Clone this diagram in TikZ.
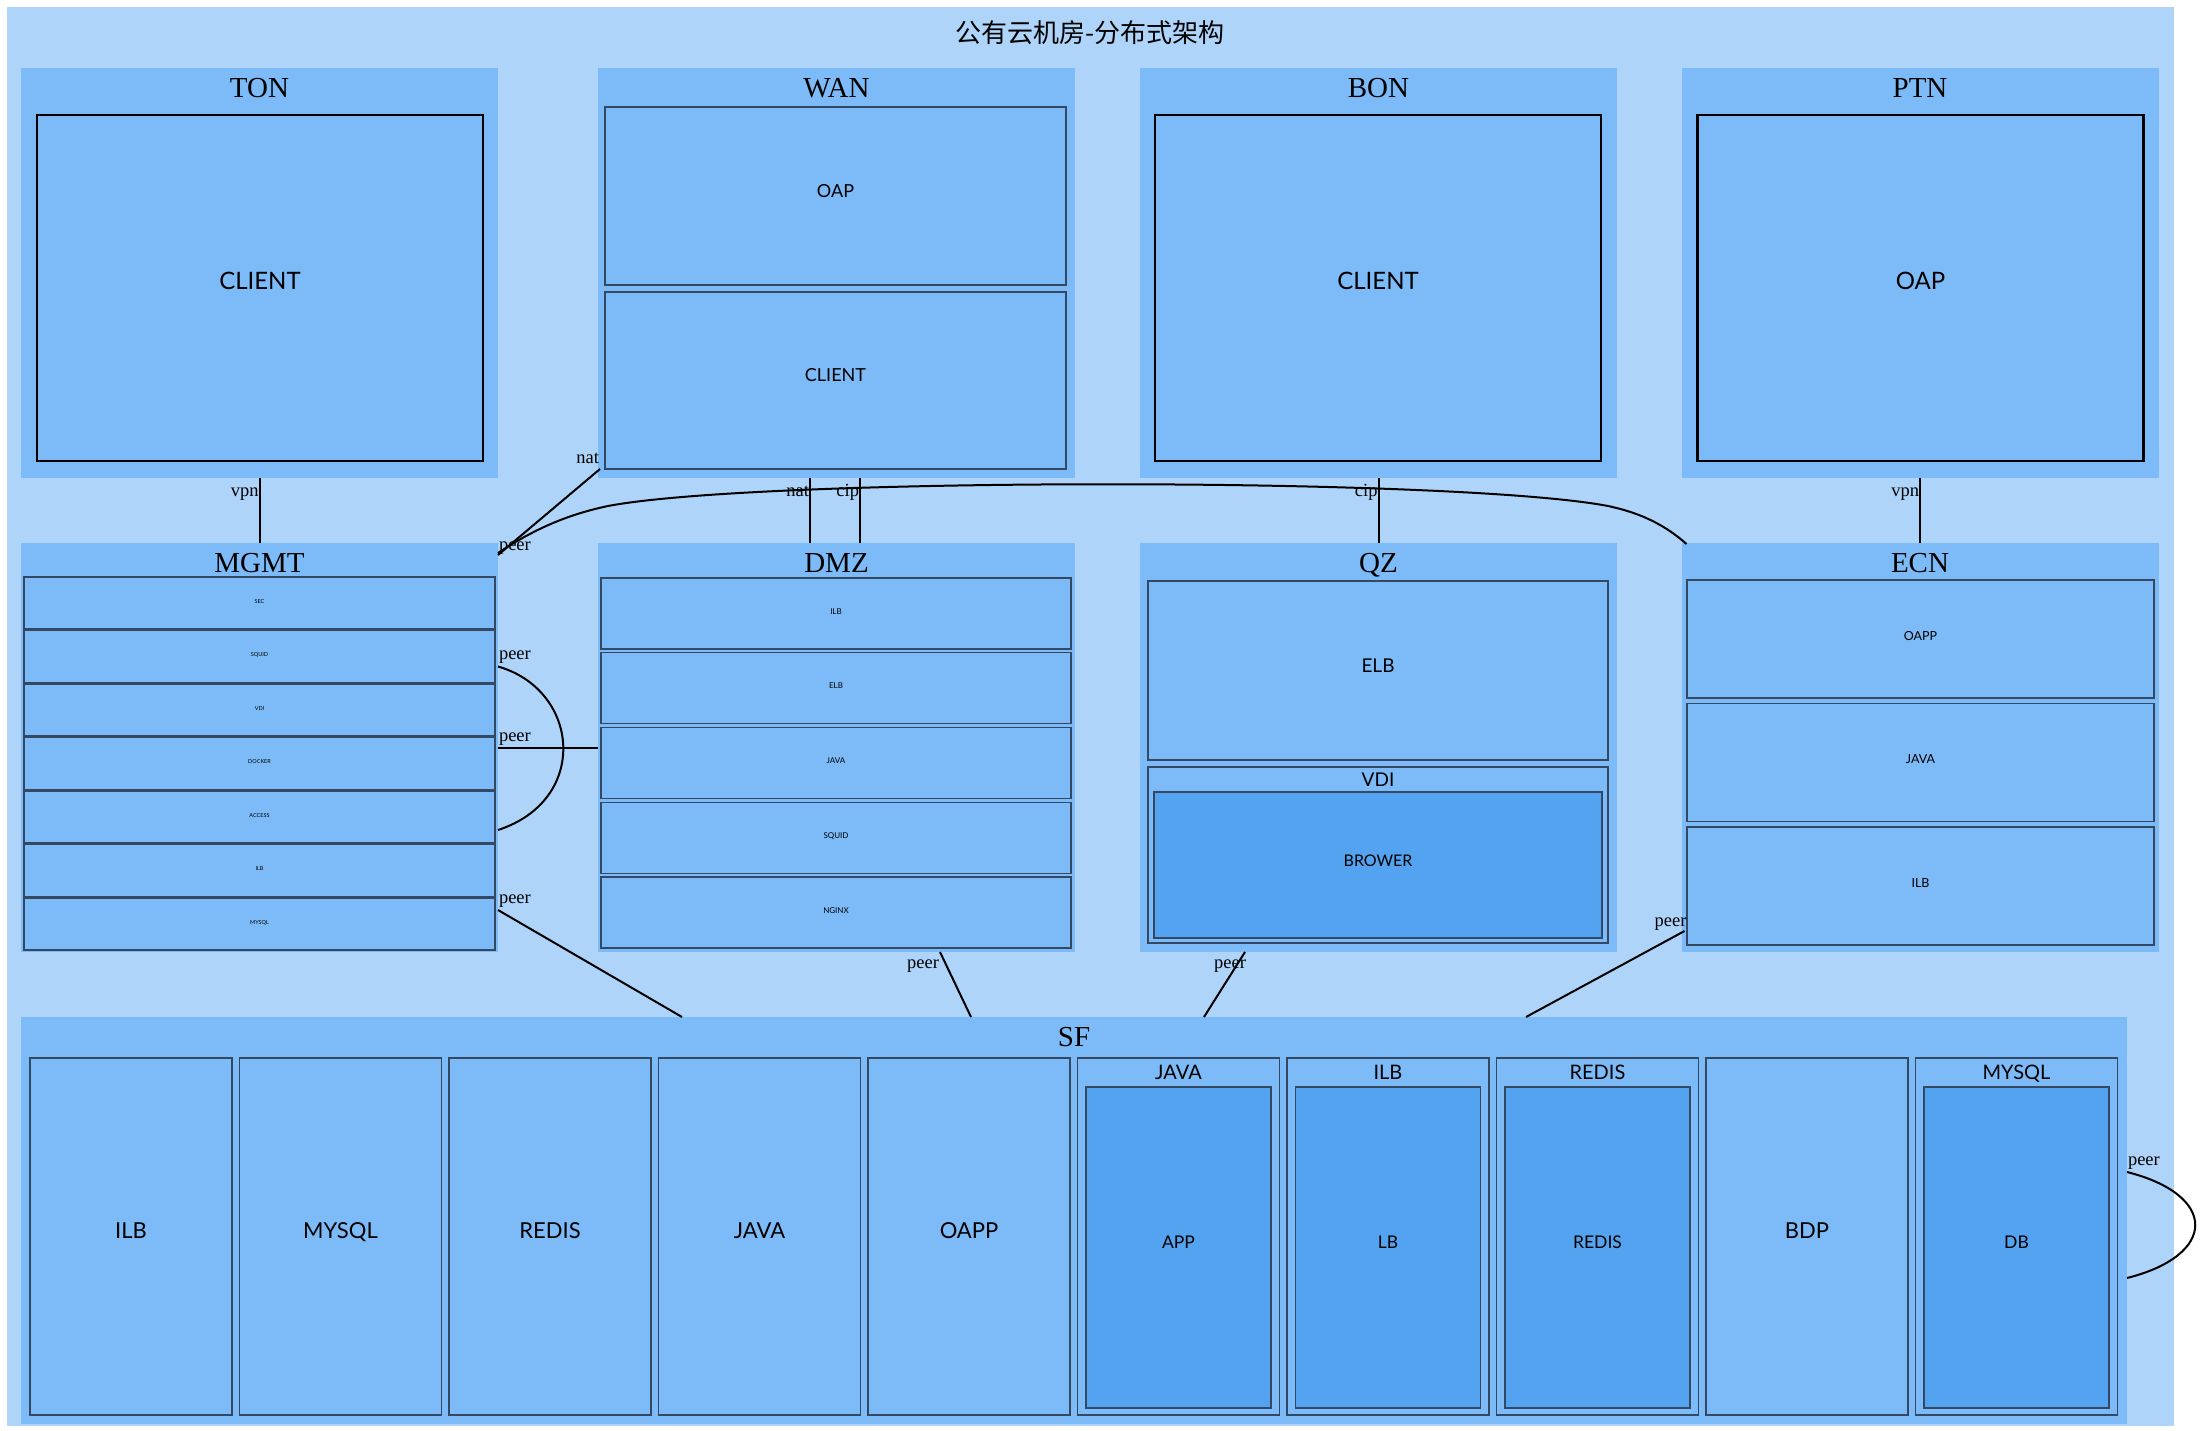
\documentclass[tikz,border=0pt]{standalone}
\usepackage{fontspec}
\setmainfont{Liberation Serif}
\newfontfamily\lbl{Lato}
\newfontfamily\cjk{Noto Sans CJK SC}
\usetikzlibrary{calc}

\definecolor{fondo}{RGB}{175,212,249}
\definecolor{grupoazul}{RGB}{125,187,248}
\definecolor{oscuro}{RGB}{84,163,240}
\definecolor{borde}{RGB}{52,72,98}

\begin{document}
\begin{tikzpicture}[x=1pt, y=-1pt,
    every node/.style={inner sep=0pt, outer sep=0pt},
    grupo/.style={fill=grupoazul, minimum width=477pt, minimum height=410pt},
    tit/.style={font=\fontsize{29}{29}\selectfont, anchor=base},
    caja/.style={draw=borde, line width=1.3pt, fill=grupoazul},
    gruesa/.style={draw=black, line width=2.5pt, fill=grupoazul},
    oscura/.style={caja, fill=oscuro},
    lab/.style={font=\lbl\fontsize{#1}{#1}\selectfont, text height=.8*#1pt, text depth=.64*#1pt},
    sub/.style={font=\lbl\fontsize{#1}{#1}\selectfont, anchor=base},
    mfila/.style={caja, lab=5.5, minimum width=471pt, minimum height=52pt},
    dfila/.style={caja, lab=8, minimum width=470pt, minimum height=71pt},
    efila/.style={caja, lab=12.5, minimum width=467pt, minimum height=118pt},
    col/.style={caja, minimum width=202pt, minimum height=357pt},
    colint/.style={oscura, lab=17.5, minimum width=185pt, minimum height=321pt},
    arista/.style={line width=2pt},
    etiq/.style={font=\fontsize{18.5}{18.5}\selectfont, inner sep=1pt}]
  \useasboundingbox (0,0) rectangle (2206,1430);

  % Fondo
  \node[fill=fondo, minimum width=2167pt, minimum height=1419pt] (grafo) at (1090.5,716.5) {};
  \node[font=\cjk\fontsize{26}{26}\selectfont] (titulo) at (1090,33) {公有云机房-分布式架构};

  % Grupos
  \node[grupo] (ton) at (259.5,273) {};
  \node[grupo] (wan) at (836.5,273) {};
  \node[grupo] (bon) at (1378.5,273) {};
  \node[grupo] (ptn) at (1920,273) {};
  \node[grupo, minimum height=409pt] (mgmt) at (259.5,747.5) {};
  \node[grupo, minimum height=409pt] (dmz) at (836.5,747.5) {};
  \node[grupo, minimum height=409pt] (qz) at (1378.5,747.5) {};
  \node[grupo, minimum height=409pt] (ecn) at (1920,747.5) {};
  \node[grupo, minimum width=2106pt, minimum height=407pt] (sf) at (1074,1220.5) {};

  \node[tit] (tontit) at ($(ton.north)+(0,29)$) {TON};
  \node[tit] (wantit) at ($(wan.north)+(0,29)$) {WAN};
  \node[tit] (bontit) at ($(bon.north)+(0,29)$) {BON};
  \node[tit] (ptntit) at ($(ptn.north)+(0,29)$) {PTN};
  \node[tit] (mgmttit) at ($(mgmt.north)+(0,29)$) {MGMT};
  \node[tit] (dmztit) at ($(dmz.north)+(0,29)$) {DMZ};
  \node[tit] (qztit) at ($(qz.north)+(0,29)$) {QZ};
  \node[tit] (ecntit) at ($(ecn.north)+(0,29)$) {ECN};
  \node[tit] (sftit) at ($(sf.north)+(0,29)$) {SF};

  % Nodos
  \node[gruesa, lab=24, minimum width=446pt, minimum height=346pt] (tclient) at (260,288) {CLIENT};
  \node[caja, lab=18, minimum width=461pt, minimum height=178pt] (woap) at (835.5,196) {OAP};
  \node[caja, lab=18, minimum width=461pt, minimum height=177pt] (wclient) at (835.5,380.5) {CLIENT};
  \node[gruesa, lab=24, minimum width=446pt, minimum height=346pt] (bclient) at (1378,288) {CLIENT};
  \node[gruesa, lab=24, minimum width=446pt, minimum height=346pt] (poap) at (1920.5,288) {OAP};

  \node[mfila] (msec) at (259.5,603) {SEC};
  \node[mfila] (msquid) at (259.5,656.5) {SQUID};
  \node[mfila] (mvdi) at (259.5,710) {VDI};
  \node[mfila] (mdocker) at (259.5,763.5) {DOCKER};
  \node[mfila] (maccess) at (259.5,817) {ACCESS};
  \node[mfila] (milb) at (259.5,870.5) {ILB};
  \node[mfila] (mmysql) at (259.5,924) {MYSQL};

  \node[dfila] (dilb) at (836,613.5) {ILB};
  \node[dfila] (delb) at (836,688) {ELB};
  \node[dfila] (djava) at (836,763) {JAVA};
  \node[dfila] (dsquid) at (836,838) {SQUID};
  \node[dfila] (dnginx) at (836,912.5) {NGINX};

  \node[caja, lab=19, minimum width=460pt, minimum height=179pt] (qelb) at (1378,670.5) {ELB};
  \node[caja, minimum width=460pt, minimum height=176pt] (qvdi) at (1378,855) {};
  \node[sub=19] (qvditit) at ($(qvdi.north)+(0,19)$) {VDI};
  \node[oscura, lab=16, minimum width=448pt, minimum height=146pt] (qbrower) at (1378,865) {BROWER};

  \node[efila] (eoapp) at (1920.5,639) {OAPP};
  \node[efila] (ejava) at (1920.5,762.5) {JAVA};
  \node[efila] (eilb) at (1920.5,886) {ILB};

  \node[col, lab=22] (silb) at (131,1236.5) {ILB};
  \node[col, lab=22] (smysql) at (340.5,1236.5) {MYSQL};
  \node[col, lab=22] (sredis) at (550,1236.5) {REDIS};
  \node[col, lab=22] (sjava) at (759.5,1236.5) {JAVA};
  \node[col, lab=22] (soapp) at (969,1236.5) {OAPP};
  \node[col] (gjava) at (1178.5,1236.5) {};
  \node[sub=20] (gjavatit) at ($(gjava.north)+(0,21)$) {JAVA};
  \node[colint] (sapp) at (1178.5,1247.5) {APP};
  \node[col] (gilb) at (1388,1236.5) {};
  \node[sub=20] (gilbtit) at ($(gilb.north)+(0,21)$) {ILB};
  \node[colint] (slb) at (1388,1247.5) {LB};
  \node[col] (gredis) at (1597.5,1236.5) {};
  \node[sub=20] (gredistit) at ($(gredis.north)+(0,21)$) {REDIS};
  \node[colint] (srediso) at (1597.5,1247.5) {REDIS};
  \node[col, lab=22] (sbdp) at (1807,1236.5) {BDP};
  \node[col] (gmysql) at (2016.5,1236.5) {};
  \node[sub=20] (gmysqltit) at ($(gmysql.north)+(0,21)$) {MYSQL};
  \node[colint] (sdb) at (2016.5,1247.5) {DB};

  % Aristas
  \draw[arista] (ton.south) -- (mgmt.north)
    node[pos=0, etiq, anchor=base east, yshift=-18pt] {vpn};
  \draw[arista] (ptn.south) -- (ecn.north)
    node[pos=0, etiq, anchor=base east, yshift=-18pt] {vpn};
  \draw[arista] (bon.south) -- (qz.north)
    node[pos=0, etiq, anchor=base east, yshift=-18pt] {cip};
  \draw[arista] ($(wan.south)+(-26.5,0)$) -- ($(dmz.north)+(-26.5,0)$)
    node[pos=0, etiq, anchor=base east, yshift=-18pt] {nat};
  \draw[arista] ($(wan.south)+(23.5,0)$) -- ($(dmz.north)+(23.5,0)$)
    node[pos=0, etiq, anchor=base east, yshift=-18pt] {cip};
  \draw[arista] ($(wan.south west)+(2,-9)$) -- ($(mgmt.north east)+(0,12)$)
    node[pos=0, etiq, anchor=base east, yshift=6pt] {nat};
  \draw[arista] ($(mgmt.north east)+(0,10)$) node[etiq, anchor=base west, yshift=3pt] {peer}
    .. controls (540,525) and (575,513) .. (608,506)
    .. controls (760,477) and (1456,477) .. (1608,506)
    .. controls (1641,513) and (1665,525) .. ($(ecn.north west)+(5,1)$);
  \draw[arista] ($(mgmt.east |- msquid.east)+(0,10)$) .. controls (580,690) and (590,800) .. ($(mgmt.east |- maccess.east)+(0,13)$)
    node[pos=0, etiq, anchor=base west, yshift=7pt] {peer};
  \draw[arista] ($(mgmt.east |- mdocker.east)+(0,-15.5)$) -- ($(dmz.west |- djava.west)+(0,-15)$)
    node[pos=0, etiq, anchor=base west, yshift=7pt] {peer};
  \draw[arista] ($(mgmt.east |- mmysql.east)+(0,-14)$) -- ($(sf.north west)+(661,0)$)
    node[pos=0, etiq, anchor=base west, yshift=7pt] {peer};
  \draw[arista] ($(dmz.south)+(103.5,0)$) -- ($(sf.north west)+(950,0)$)
    node[pos=0, etiq, anchor=base east, yshift=-16pt] {peer};
  \draw[arista] ($(qz.south)+(-133.5,0)$) -- ($(sf.north west)+(1183,0)$)
    node[pos=0, etiq, anchor=base east, yshift=-16pt, xshift=2pt] {peer};
  \draw[arista] ($(ecn.south west)+(3,-21)$) -- ($(sf.north west)+(1505,0)$)
    node[pos=0, etiq, anchor=base east, yshift=5pt, xshift=3pt] {peer};
  \draw[arista] ($(sf.east |- gmysql.east)+(0,-64.5)$) .. controls (2218,1195) and (2218,1255) .. ($(sf.east |- gmysql.east)+(0,41.5)$)
    node[pos=0, etiq, anchor=base west, yshift=7pt] {peer};
\end{tikzpicture}
\end{document}
